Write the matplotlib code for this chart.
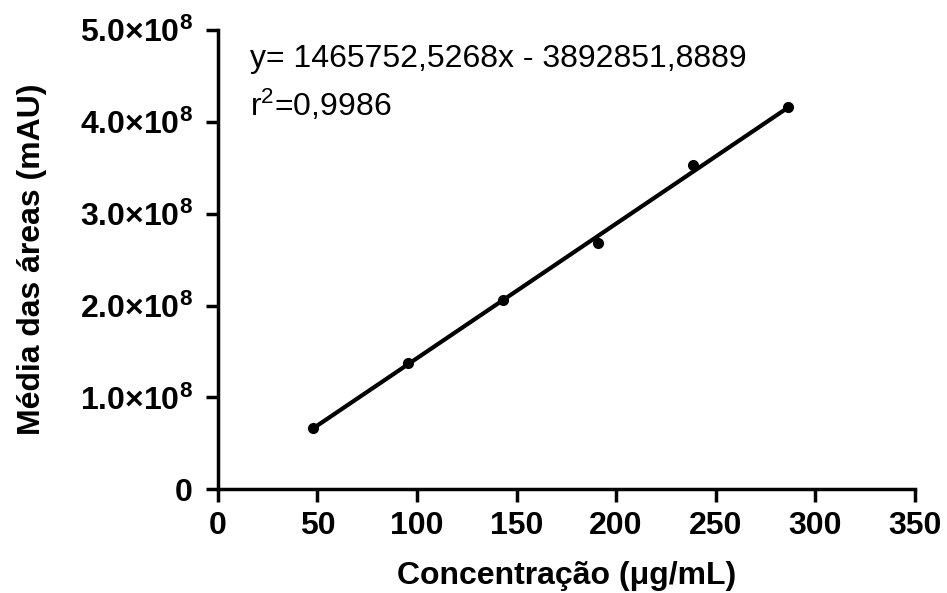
import numpy as np
import matplotlib.pyplot as plt

plt.rcParams['font.family'] = ['Liberation Sans', 'DejaVu Sans']
plt.rcParams['mathtext.fontset'] = 'custom'
plt.rcParams['mathtext.rm'] = 'Liberation Sans'
plt.rcParams['mathtext.bf'] = 'Liberation Sans:bold'
plt.rcParams['mathtext.default'] = 'bf'

# concentration (ug/mL) and mean peak area (mAU)
conc = np.array([47.7, 95.4, 143.1, 190.8, 238.5, 286.2])
area = np.array([0.664e8, 1.37e8, 2.06e8, 2.68e8, 3.53e8, 4.16e8])
slope = 1465752.5268
intercept = -3892851.8889

yticks = [0, 1e8, 2e8, 3e8, 4e8, 5e8]
ytick_labels = ['0'] + ['%.1f×10$^{8}$' % (v / 1e8) for v in yticks[1:]]
xticks = [0, 50, 100, 150, 200, 250, 300, 350]

fig = plt.figure(figsize=(9.47, 5.93), dpi=100)
ax = fig.add_axes([0.230, 0.175, 0.736, 0.774])

xfit = np.array([conc[0], conc[-1]])
ax.plot(xfit, slope * xfit + intercept, color='black', lw=3)
ax.plot(conc, area, 'o', color='black', ms=7)

ax.set_xlim(0, 350)
ax.set_ylim(0, 5e8)
ax.set_xticks(xticks)
ax.set_yticks(yticks)
ax.set_yticklabels(ytick_labels)
for lab in ax.get_xticklabels() + ax.get_yticklabels():
    lab.set_fontweight('bold')
ax.tick_params(labelsize=23, width=2.5, length=9, direction='out')
ax.tick_params(axis='x', pad=7)
ax.tick_params(axis='y', pad=9)

for s in ['top', 'right']:
    ax.spines[s].set_visible(False)
for s in ['left', 'bottom']:
    ax.spines[s].set_linewidth(2.5)

ax.set_xlabel('Concentração (μg/mL)', fontsize=23, fontweight='bold', labelpad=14)
ax.set_ylabel('Média das áreas (mAU)', fontsize=23, fontweight='bold', labelpad=24)

ax.text(16, 4.69e8, 'y= 1465752,5268x - 3892851,8889', fontsize=23, va='center')
ax.text(16, 4.18e8, r'r$^{\mathrm{2}}$=0,9986', fontsize=23, va='center')

fig.savefig('out.png', dpi=100)
